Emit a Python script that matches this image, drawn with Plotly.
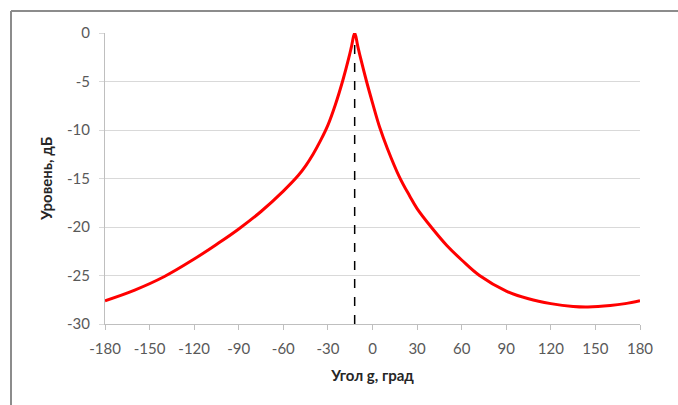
import plotly.graph_objects as go

angles = [-180, -160, -140, -120, -105, -90, -75, -60, -50, -45, -40, -35, -30, -25, -20, -16, -14, -12,
          -10, -8, -4, 0, 5, 10, 18, 25, 30, 40, 50, 60, 72, 90, 105, 120, 135, 145, 160, 170, 180]
level = [-27.6, -26.5, -25.1, -23.3, -21.8, -20.2, -18.4, -16.3, -14.7, -13.7, -12.5, -11.1, -9.5, -7.4, -4.9, -2.6, -1.3, 0.0,
         -1.3, -2.6, -5.0, -7.2, -9.8, -11.9, -14.8, -16.8, -18.1, -20.1, -21.9, -23.4, -25.0, -26.6, -27.4, -27.9, -28.2, -28.25, -28.1, -27.9, -27.6]
peak_angle = -12
y_range = [-30, 0]
x_ticks = [-180, -150, -120, -90, -60, -30, 0, 30, 60, 90, 120, 150, 180]
y_ticks = [0, -5, -10, -15, -20, -25, -30]

fig = go.Figure()
fig.add_trace(go.Scatter(x=[peak_angle, peak_angle], y=y_range, mode="lines",
                         line=dict(color="black", width=1.5, dash="dash"), showlegend=False))
fig.add_trace(go.Scatter(x=angles, y=level, mode="lines",
                         line=dict(color="#ff0000", width=3, shape="spline", smoothing=1.1), showlegend=False))

W, H = 678, 405
L, R, T, B = 105, 38, 33, 81
pw, ph = W - L - R, H - T - B
def px2x(px): return (px - L) / pw
def py2y(py): return (H - B - py) / ph

fig.add_shape(type="line", xref="paper", yref="paper", x0=px2x(11), x1=px2x(11), y0=py2y(410), y1=py2y(11),
              line=dict(color="#8c8c8c", width=2))
fig.add_shape(type="line", xref="paper", yref="paper", x0=px2x(11), x1=px2x(690), y0=py2y(11), y1=py2y(11),
              line=dict(color="#8c8c8c", width=2))

fig.update_layout(
    width=W, height=H, margin=dict(l=L, r=R, t=T, b=B),
    paper_bgcolor="white", plot_bgcolor="white",
    font=dict(family="Lato", size=15, color="#595959"),
    xaxis=dict(range=[-180, 180], tickvals=x_ticks, ticktext=[str(v) for v in x_ticks],
               showgrid=False, zeroline=False, showline=True, linecolor="#bfbfbf", linewidth=1,
               ticks="outside", ticklen=5, tickcolor="#bfbfbf", ticklabelstandoff=6,
               title=dict(text="<b>Угол g, град</b>", font=dict(size=15, color="#262626"), standoff=14)),
    yaxis=dict(range=y_range, tickvals=y_ticks, ticktext=[str(v) for v in y_ticks],
               showgrid=True, gridcolor="#d9d9d9", gridwidth=1, zeroline=False,
               showline=True, linecolor="#bfbfbf", linewidth=1,
               ticks="outside", ticklen=5, tickcolor="#d9d9d9", ticklabelstandoff=6,
               title=dict(text="<b>Уровень, дБ</b>", font=dict(size=15, color="#262626"), standoff=10)),
)
fig.write_html("out.html")
